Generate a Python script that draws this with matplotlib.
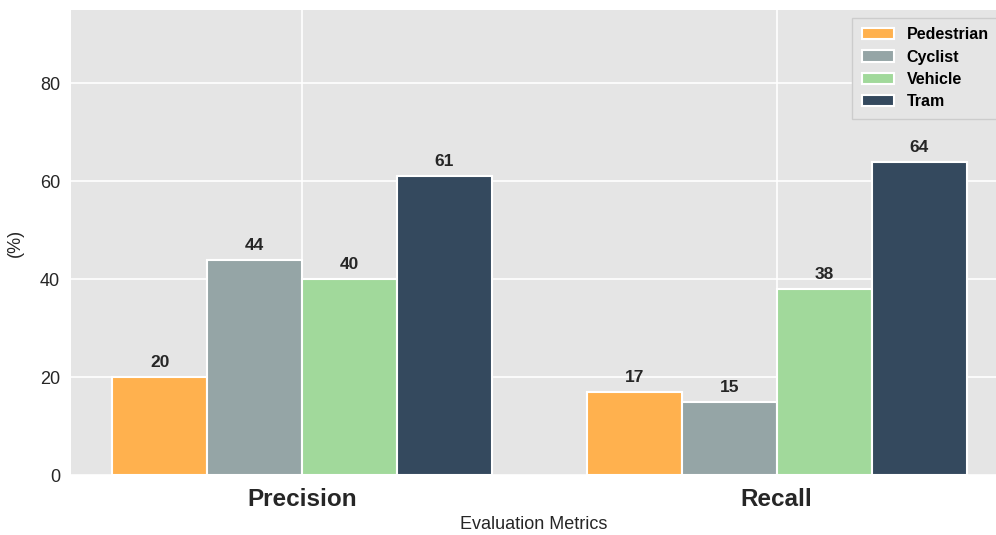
import numpy as np
import matplotlib
matplotlib.use('Agg')
import matplotlib.pyplot as plt

plt.rcParams['font.family'] = ['Liberation Sans', 'DejaVu Sans']

metrics = ['Precision', 'Recall']
classes = ['Pedestrian', 'Cyclist', 'Vehicle', 'Tram']
pedestrian = [20, 17]
cyclist = [44, 15]
vehicle = [40, 38]
tram = [61, 64]
colors = ['#FFB14E', '#95A5A6', '#A1D99B', '#34495E']

series = [pedestrian, cyclist, vehicle, tram]
x = np.arange(len(metrics))
width = 0.2

fig = plt.figure(figsize=(9.96, 5.35), dpi=100)
ax = fig.add_axes([71 / 996, (535 - 475) / 535, (996 - 71) / 996, (475 - 10) / 535])
ax.set_facecolor('#e5e5e5')
for s in ax.spines.values():
    s.set_visible(False)
ax.grid(True, color='white', linewidth=1.2)
ax.set_axisbelow(True)

for i, (vals, name, c) in enumerate(zip(series, classes, colors)):
    pos = x + (i - 1.5) * width
    bars = ax.bar(pos, vals, width, label=name, color=c, edgecolor='white', linewidth=1.5)
    for b, v in zip(bars, vals):
        ax.annotate(str(v), (b.get_x() + b.get_width() / 2, v), xytext=(0, 5),
                    textcoords='offset points', ha='center', va='bottom',
                    fontsize=12.5, fontweight='bold', color='#262626')

ax.set_xlim(-0.487, 1.462)
ax.set_ylim(0, 95)
ax.set_yticks([0, 20, 40, 60, 80])
ax.set_xticks(x)
ax.set_xticklabels(metrics, fontsize=17.5, fontweight='bold', color='#262626')
ax.tick_params(axis='y', labelsize=13, labelcolor='#262626', length=0, pad=8)
ax.tick_params(axis='x', length=0, pad=9)
ax.set_ylabel('(%)', fontsize=13, color='#262626', labelpad=11)
ax.set_xlabel('Evaluation Metrics', fontsize=13, color='#262626', labelpad=4)

leg = ax.legend(loc='upper right', prop={'weight': 'bold', 'size': 11.5},
                facecolor='#e5e5e5', edgecolor='#cccccc', framealpha=1,
                borderpad=0.3, labelspacing=0.45,
                bbox_to_anchor=(1.006, 0.99))
leg.get_frame().set_boxstyle('square')

fig.savefig('out.png', dpi=100)
